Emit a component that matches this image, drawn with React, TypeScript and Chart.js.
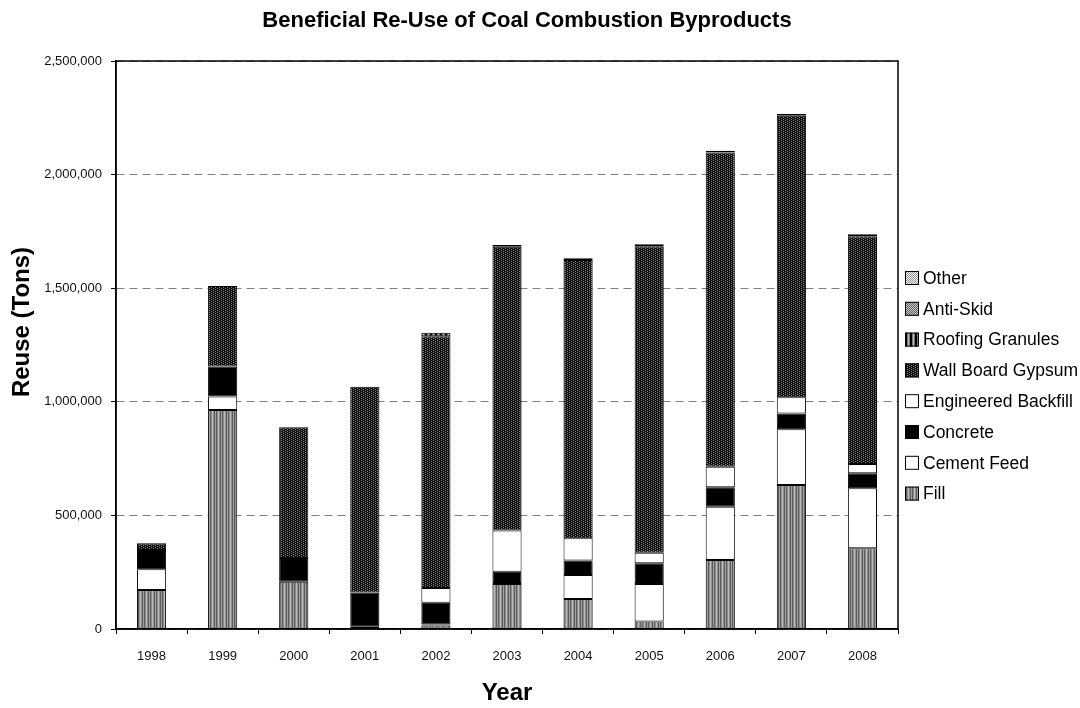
import React, { useEffect, useRef } from 'react';
import { Chart, registerables } from 'chart.js';

Chart.register(...registerables);

const years = ['1998', '1999', '2000', '2001', '2002', '2003', '2004', '2005', '2006', '2007', '2008'];
const fill = [172000, 964000, 208000, 2000, 15000, 198000, 132000, 33000, 304000, 634000, 355000];
const cementFeed = [91000, 59000, 0, 8000, 5000, 4000, 106000, 165000, 234000, 245000, 264000];
const concrete = [85000, 132000, 104000, 151000, 95000, 50000, 63000, 91000, 86000, 70000, 66000];
const engineeredBackfill = [0, 0, 0, 0, 66000, 181000, 98000, 47000, 90000, 71000, 41000];
const wallBoardGypsum = [29000, 355000, 576000, 905000, 1108000, 1249000, 1225000, 1349000, 1383000, 1239000, 1003000];
const roofingGranules = [0, 0, 0, 0, 15000, 0, 0, 0, 0, 0, 0];
const antiSkid = [0, 0, 0, 0, 0, 8000, 8000, 8000, 8000, 8000, 8000];
const other = [0, 0, 0, 0, 0, 0, 0, 0, 0, 0, 0];
const yTicks = [0, 500000, 1000000, 1500000, 2000000, 2500000];

const FONT = "'Liberation Sans', Arial, sans-serif";

function makePattern(w: number, h: number, draw: (g: CanvasRenderingContext2D) => void) {
  const c = document.createElement('canvas');
  c.width = w;
  c.height = h;
  const g = c.getContext('2d')!;
  draw(g);
  return g.createPattern(c, 'repeat')!;
}

function stripes(cols: string[]) {
  return makePattern(cols.length, 1, (g) => {
    cols.forEach((col, i) => {
      g.fillStyle = col;
      g.fillRect(i, 0, 1, 1);
    });
  });
}

function dots(bg: string, fg: string, pts: number[][], w: number, h: number) {
  return makePattern(w, h, (g) => {
    g.fillStyle = bg;
    g.fillRect(0, 0, w, h);
    g.fillStyle = fg;
    pts.forEach(([x, y]) => g.fillRect(x, y, 1, 1));
  });
}

function fmt(v: number) {
  return String(v).replace(/\B(?=(\d{3})+(?!\d))/g, ',');
}

const decorPlugin = {
  id: 'decor',
  afterDatasetsDraw(chart: any) {
    const { ctx, chartArea } = chart;
    ctx.save();
    ctx.strokeStyle = '#000';
    ctx.lineWidth = 1.5;
    ctx.strokeRect(chartArea.left, chartArea.top, chartArea.right - chartArea.left, chartArea.bottom - chartArea.top);
    ctx.restore();
  },
  afterDraw(chart: any) {
    const { ctx } = chart;
    ctx.save();
    // chart title
    ctx.fillStyle = '#000';
    ctx.font = `bold 22px ${FONT}`;
    ctx.textAlign = 'center';
    ctx.textBaseline = 'middle';
    ctx.fillText('Beneficial Re-Use of Coal Combustion Byproducts', 527, 21);
    // y axis title
    ctx.save();
    ctx.translate(22, 322);
    ctx.rotate(-Math.PI / 2);
    ctx.font = `bold 24px ${FONT}`;
    ctx.fillText('Reuse (Tons)', 0, 0);
    ctx.restore();
    // legend (reversed order)
    const ds = chart.data.datasets;
    ctx.font = `17.5px ${FONT}`;
    ctx.textAlign = 'left';
    for (let k = 0; k < ds.length; k++) {
      const d = ds[ds.length - 1 - k];
      const y = 278 + k * 30.8;
      ctx.fillStyle = d.backgroundColor;
      ctx.fillRect(905, y - 7, 14, 14);
      ctx.strokeStyle = '#000';
      ctx.lineWidth = 1;
      ctx.strokeRect(905.5, y - 6.5, 13, 13);
      ctx.fillStyle = '#000';
      ctx.fillText(d.label, 923, y + 1);
    }
    ctx.restore();
  },
};

export default function App() {
  const ref = useRef<HTMLCanvasElement | null>(null);

  useEffect(() => {
    const canvas = ref.current!;
    const fillPat = stripes(['#5c5c5c', '#8e8e8e', '#bcbcbc', '#8e8e8e', '#5c5c5c', '#a0a0a0']);
    const wallPat = dots('#111111', '#808080', [[1, 0], [3, 1], [1, 2], [3, 3]], 4, 4);
    const roofPat = stripes(['#000000', '#000000', '#777777', '#bbbbbb', '#777777']);
    const antiPat = dots('#666666', '#c0c0c0', [[0, 0], [1, 1]], 2, 2);
    const otherPat = dots('#f0f0f0', '#999999', [[0, 0], [1, 1]], 2, 2);

    const series = [
      { label: 'Fill', data: fill, bg: fillPat },
      { label: 'Cement Feed', data: cementFeed, bg: '#ffffff' },
      { label: 'Concrete', data: concrete, bg: '#000000' },
      { label: 'Engineered Backfill', data: engineeredBackfill, bg: '#ffffff' },
      { label: 'Wall Board Gypsum', data: wallBoardGypsum, bg: wallPat },
      { label: 'Roofing Granules', data: roofingGranules, bg: roofPat },
      { label: 'Anti-Skid', data: antiSkid, bg: antiPat },
      { label: 'Other', data: other, bg: otherPat },
    ];

    const chart = new Chart(canvas, {
      type: 'bar',
      data: {
        labels: years,
        datasets: series.map((s) => ({
          label: s.label,
          data: s.data.map((v) => (v === 0 ? null : v)),
          backgroundColor: s.bg,
          borderColor: '#000000',
          borderWidth: 1,
          borderSkipped: false,
          barPercentage: 0.41,
          categoryPercentage: 1,
        })),
      },
      options: {
        responsive: false,
        animation: false,
        events: [],
        layout: { padding: { top: 61, right: 182, left: 0, bottom: 0 } },
        plugins: {
          legend: { display: false },
          title: { display: false },
          tooltip: { enabled: false },
        },
        scales: {
          x: {
            stacked: true,
            grid: { drawOnChartArea: false, drawTicks: true, tickLength: 5, tickColor: '#000', offset: true },
            border: { color: '#000', width: 1.5 },
            ticks: { color: '#111', font: { family: FONT, size: 13 }, padding: 15 },
            title: {
              display: true,
              text: 'Year',
              color: '#000',
              font: { family: FONT, size: 24, weight: 'bold' },
              padding: { top: 0, bottom: 0 },
            },
            afterFit: (s: any) => {
              s.height = 79;
            },
          },
          y: {
            stacked: true,
            min: 0,
            max: 2500000,
            afterBuildTicks: (s: any) => {
              s.ticks = yTicks.map((v) => ({ value: v }));
            },
            ticks: {
              color: '#111',
              font: { family: FONT, size: 13 },
              padding: 9,
              callback: (v: any) => fmt(Number(v)),
            },
            grid: { color: '#808080', lineWidth: 1, tickColor: '#000', tickLength: 5 },
            border: { color: '#000', width: 1.5, dash: [8, 5] },
            afterFit: (s: any) => {
              s.width = 116;
            },
          },
        },
      },
      plugins: [decorPlugin],
    });

    return () => chart.destroy();
  }, []);

  return (
    <div style={{ position: 'fixed', left: 0, top: 0, width: 1080, height: 708, background: '#fff' }}>
      <canvas ref={ref} width={1080} height={708} style={{ display: 'block', width: 1080, height: 708 }} />
    </div>
  );
}
